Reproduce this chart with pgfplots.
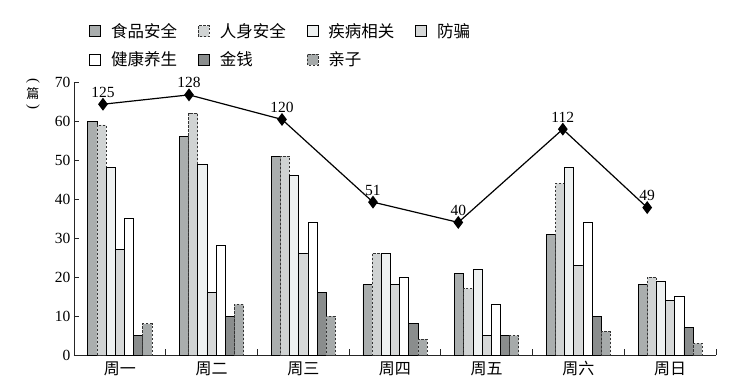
\documentclass[border=0pt]{standalone}
\usepackage{fontspec}
\usepackage{pgfplots}
\pgfplotsset{compat=1.18}
\setmainfont{Liberation Serif}
\newfontfamily\cjk{Noto Sans CJK SC}
\definecolor{c1}{HTML}{AAAEAE}
\definecolor{c2}{HTML}{D0D3D3}
\definecolor{c3}{HTML}{EEF1F1}
\definecolor{c4}{HTML}{D6D8D8}
\definecolor{c5}{HTML}{FFFFFF}
\definecolor{c6}{HTML}{8A8D8D}
\definecolor{c7}{HTML}{A6AAAA}
\pgfplotstableread{
x y label
-0.184 64.3 125
0.754 66.7 128
1.768 60.4 120
2.76 39.2 51
3.69 34.0 40
4.83 57.9 112
5.75 37.8 49
}\totaldata
\begin{document}
\begin{tikzpicture}
\path[use as bounding box] (-74pt,-34pt) rectangle (663pt,355pt);
\begin{axis}[
  at={(0pt,0pt)}, anchor=south west,
  scale only axis, width=642pt, height=273pt,
  xmin=-0.5, xmax=6.5, ymin=0, ymax=70,
  axis x line=bottom, axis y line=left,
  axis line style={-, line width=0.9pt, black!85},
  tick style={line width=0.9pt, black!85},
  tick align=inside,
  xtick={0,1,2,3,4,5,6},
  xticklabels={周一,周二,周三,周四,周五,周六,周日},
  major x tick style={draw=none},
  minor xtick={0.5,1.5,2.5,3.5,4.5,5.5,6.5},
  minor tick length=6pt,
  ytick={0,10,20,30,40,50,60,70},
  major tick length=5pt,
  xticklabel style={font=\cjk\fontsize{16}{16}\selectfont, yshift=-3pt},
  yticklabel style={font=\fontsize{15.5}{15.5}\selectfont},
  /pgf/number format/assume math mode=true,
  clip=false,
  legend columns=4,
  legend cell align=left,
  legend image code/.code={\draw[#1] (0pt,-5.5pt) rectangle (11pt,5.5pt);},
  legend style={draw=none, fill=none, at={(0.019,1.23)}, anchor=north west,
    font=\cjk\fontsize{16.5}{16.5}\selectfont, row sep=9pt,
    /tikz/every odd column/.append style={column sep=8pt},
    /tikz/every even column/.append style={column sep=19pt}},
]
\addplot[ybar, bar width=9.15pt, bar shift=-27.45pt, fill=c1, draw=black, line width=0.7pt]
  coordinates {(0,60) (1,56) (2,51) (3,18) (4,21) (5,31) (6,18)};
\addlegendentry{食品安全}
\addplot[ybar, bar width=9.15pt, bar shift=-18.3pt, fill=c2, draw=black!80, line width=0.7pt, dash pattern=on 2.5pt off 1.5pt]
  coordinates {(0,59) (1,62) (2,51) (3,26) (4,17) (5,44) (6,20)};
\addlegendentry{人身安全}
\addplot[ybar, bar width=9.15pt, bar shift=-9.15pt, fill=c3, draw=black, line width=0.7pt]
  coordinates {(0,48) (1,49) (2,46) (3,26) (4,22) (5,48) (6,19)};
\addlegendentry{疾病相关}
\addplot[ybar, bar width=9.15pt, bar shift=0pt, fill=c4, draw=black, line width=0.7pt]
  coordinates {(0,27) (1,16) (2,26) (3,18) (4,5) (5,23) (6,14)};
\addlegendentry{防骗}
\addplot[ybar, bar width=9.15pt, bar shift=9.15pt, fill=c5, draw=black, line width=0.7pt]
  coordinates {(0,35) (1,28) (2,34) (3,20) (4,13) (5,34) (6,15)};
\addlegendentry{健康养生}
\addplot[ybar, bar width=9.15pt, bar shift=18.3pt, fill=c6, draw=black, line width=0.7pt]
  coordinates {(0,5) (1,10) (2,16) (3,8) (4,5) (5,10) (6,7)};
\addlegendentry{金钱}
\addplot[ybar, bar width=9.15pt, bar shift=27.45pt, fill=c7, draw=black!80, line width=0.7pt, dash pattern=on 2.5pt off 1.5pt]
  coordinates {(0,8) (1,13) (2,10) (3,4) (4,5) (5,6) (6,3)};
\addlegendentry{亲子}
\addplot[black, line width=1.2pt, mark=diamond*, mark size=5.5pt,
  mark options={solid, fill=black},
  nodes near coords, point meta=explicit symbolic,
  every node near coord/.append style={anchor=south, yshift=3pt, font=\fontsize{15.5}{15.5}\selectfont, black}]
  table[x=x, y=y, meta=label] {\totaldata};
\end{axis}
\node[rotate=-90, inner sep=0pt, font=\fontsize{15}{15}\selectfont] at (-41pt,274pt) {(};
\node[inner sep=0pt, font=\cjk\fontsize{13}{13}\selectfont] at (-41pt,261pt) {篇};
\node[rotate=-90, inner sep=0pt, font=\fontsize{15}{15}\selectfont] at (-41pt,248pt) {)};
\end{tikzpicture}
\end{document}
